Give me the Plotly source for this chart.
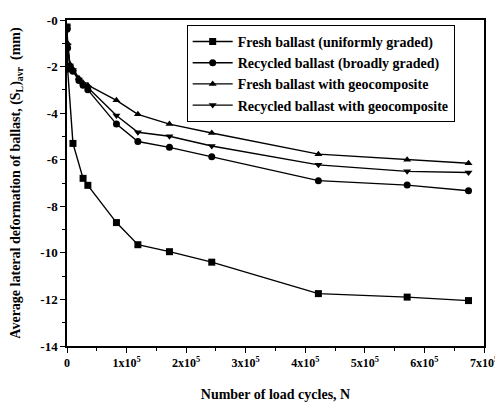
import plotly.graph_objects as go

x_fresh = [0, 1000, 10000, 27000, 35000, 83000, 119000, 172000, 243000, 422000, 571000, 674000]
y_fresh = [-0.3, -2.1, -5.3, -6.8, -7.1, -8.7, -9.65, -9.95, -10.4, -11.75, -11.9, -12.05]

x_other = [0, 1000, 5000, 10000, 20000, 27000, 35000, 83000, 119000, 172000, 243000, 422000, 571000, 674000]
y_recycled = [-0.4, -1.2, -2.0, -2.2, -2.6, -2.8, -3.0, -4.47, -5.22, -5.47, -5.87, -6.9, -7.09, -7.33]
y_fresh_geo = [-0.3, -1.0, -1.9, -2.1, -2.5, -2.7, -2.8, -3.45, -4.05, -4.47, -4.85, -5.76, -6.0, -6.15]
y_recycled_geo = [-0.3, -1.1, -1.95, -2.15, -2.55, -2.75, -2.9, -4.1, -4.82, -4.99, -5.41, -6.22, -6.5, -6.55]

names = ["Fresh ballast (uniformly graded)", "Recycled ballast (broadly graded)",
         "Fresh ballast with geocomposite", "Recycled ballast with geocomposite"]
x_tick_vals = [0, 100000, 200000, 300000, 400000, 500000, 600000, 700000]
x_tick_text = ["0"] + [f"{i}x10<sup>5</sup>" for i in range(1, 8)]
y_tick_vals = [0, -2, -4, -6, -8, -10, -12, -14]
y_tick_text = ["-0", "-2", "-4", "-6", "-8", "-10", "-12", "-14"]

FAM = "Liberation Serif, Times New Roman, serif"
font = dict(family=FAM, size=12, color="black", weight="bold")

fig = go.Figure()
series = [
    (x_fresh, y_fresh, "square"),
    (x_other, y_recycled, "circle"),
    (x_other, y_fresh_geo, "triangle-up"),
    (x_other, y_recycled_geo, "triangle-down"),
]
for (xs, ys, sym), nm in zip(series, names):
    fig.add_trace(go.Scatter(
        x=xs, y=ys, name=nm, mode="lines+markers",
        line=dict(color="black", width=1.4),
        marker=dict(symbol=sym, size=7, color="black"),
    ))

fig.update_layout(
    width=495, height=400,
    margin=dict(l=59, r=15, t=5, b=61.5),
    paper_bgcolor="white", plot_bgcolor="white",
    font=font,
    showlegend=True,
    legend=dict(x=0.287, y=0.985, xanchor="left", yanchor="top",
                bordercolor="black", borderwidth=1, bgcolor="white",
                font=dict(family=FAM, size=14, color="black", weight="bold"),
                tracegroupgap=0, itemwidth=40),
)
fig.update_xaxes(
    range=[0, 700000], tickvals=x_tick_vals, ticktext=x_tick_text,
    showgrid=False, zeroline=False, showline=True, linecolor="black", linewidth=1.5,
    mirror=True, ticks="outside", ticklen=5, tickcolor="black",
    ticklabeloverflow="allow",
    minor=dict(ticks="outside", ticklen=3, dtick=50000, tickcolor="black"),
    title=dict(text="Number of load cycles, N", font=dict(family=FAM, size=14, weight="bold"), standoff=20),
    tickfont=dict(family=FAM, size=12, weight="bold"),
)
fig.update_yaxes(
    range=[-14, 0], tickvals=y_tick_vals, ticktext=y_tick_text,
    showgrid=False, zeroline=False, showline=True, linecolor="black", linewidth=1.5,
    mirror=True, ticks="outside", ticklen=5, tickcolor="black",
    ticklabeloverflow="allow",
    minor=dict(ticks="outside", ticklen=3, dtick=1, tickcolor="black"),
    title=dict(text="Average lateral deformation of ballast, (S<sub>L</sub>)<sub>avr</sub>  (mm)",
               font=dict(family=FAM, size=14, weight="bold"), standoff=16),
    tickfont=dict(family=FAM, size=13, weight="bold"),
)
fig.write_html("out.html")
